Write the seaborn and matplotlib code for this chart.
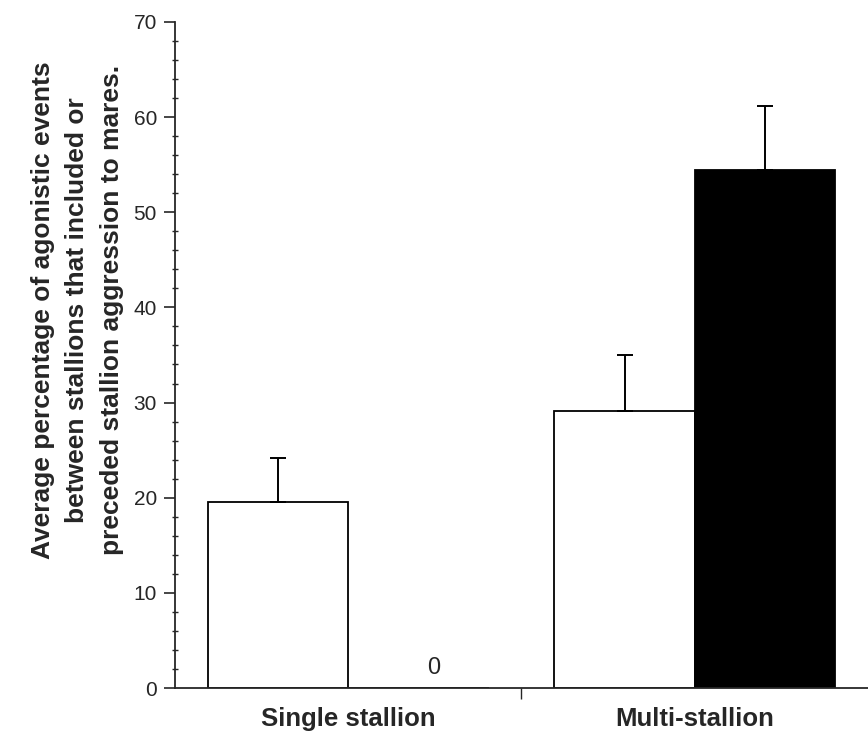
import pandas as pd
import numpy as np
import matplotlib.pyplot as plt
import seaborn as sns
from matplotlib.ticker import MultipleLocator

# data
groups = ["Single stallion", "Multi-stallion"]
series = ["Included", "Preceded"]
means_included = [19.6, 29.1]
means_preceded = [0.0, 54.4]
sem_included = [4.6, 5.9]
sem_preceded = [0.0, 6.8]

df = pd.DataFrame({
    "group": groups * 2,
    "series": [series[0]] * 2 + [series[1]] * 2,
    "value": means_included + means_preceded,
    "err": sem_included + sem_preceded,
})

sns.set_style("ticks")
plt.rcParams["font.family"] = ["Liberation Sans", "DejaVu Sans"]

fig = plt.figure(figsize=(8.68, 7.36), dpi=100)
ax = fig.add_axes([0.2016, 0.0652, 0.7984, 0.905])

sns.barplot(data=df, x="group", y="value", hue="series", order=groups,
            hue_order=series, palette=["white", "black"], edgecolor="black",
            linewidth=1.3, width=0.81, errorbar=None, legend=False, ax=ax)

# upper-only error bars, placed at the bar centres seaborn produced
bars = [p for p in ax.patches]
for s_i, s in enumerate(series):
    for g_i, g in enumerate(groups):
        row = df[(df.group == g) & (df.series == s)].iloc[0]
        p = bars[s_i * len(groups) + g_i]
        cx = p.get_x() + p.get_width() / 2
        if row.value > 0:
            ax.errorbar(cx, row.value, yerr=[[0], [row.err]], fmt="none",
                        ecolor="black", elinewidth=1.4, capsize=6, capthick=1.4)
        else:
            ax.text(cx + 0.045, 0.9, "0", ha="center", va="bottom", fontsize=17)

ax.set_ylim(0, 70)
ax.set_xlim(-0.5, 1.5)
ax.yaxis.set_major_locator(MultipleLocator(10))
ax.yaxis.set_minor_locator(MultipleLocator(2))
ax.tick_params(axis="y", which="major", length=8, width=1.2, labelsize=15,
               direction="out", pad=5)
ax.tick_params(axis="y", which="minor", length=5, width=1.0, direction="inout")
ax.set_xticks([0, 1])
ax.set_xticklabels(groups, fontsize=18.5, fontweight="bold")
ax.set_xticks([0.5], minor=True)
ax.tick_params(axis="x", which="major", length=0, pad=14)
ax.tick_params(axis="x", which="minor", length=8, width=1.0, direction="out")
ax.set_xlabel("")
ax.set_ylabel("")
for side in ["top", "right"]:
    ax.spines[side].set_visible(False)
for side in ["left", "bottom"]:
    ax.spines[side].set_linewidth(1.3)

fig.text(0.089, 0.579,
         "Average percentage of agonistic events\n"
         "between stallions that included or\n"
         "preceded stallion aggression to mares.",
         rotation=90, ha="center", va="center", multialignment="center",
         fontsize=19, fontweight="bold", linespacing=1.55)

fig.savefig("out.png", dpi=100)
